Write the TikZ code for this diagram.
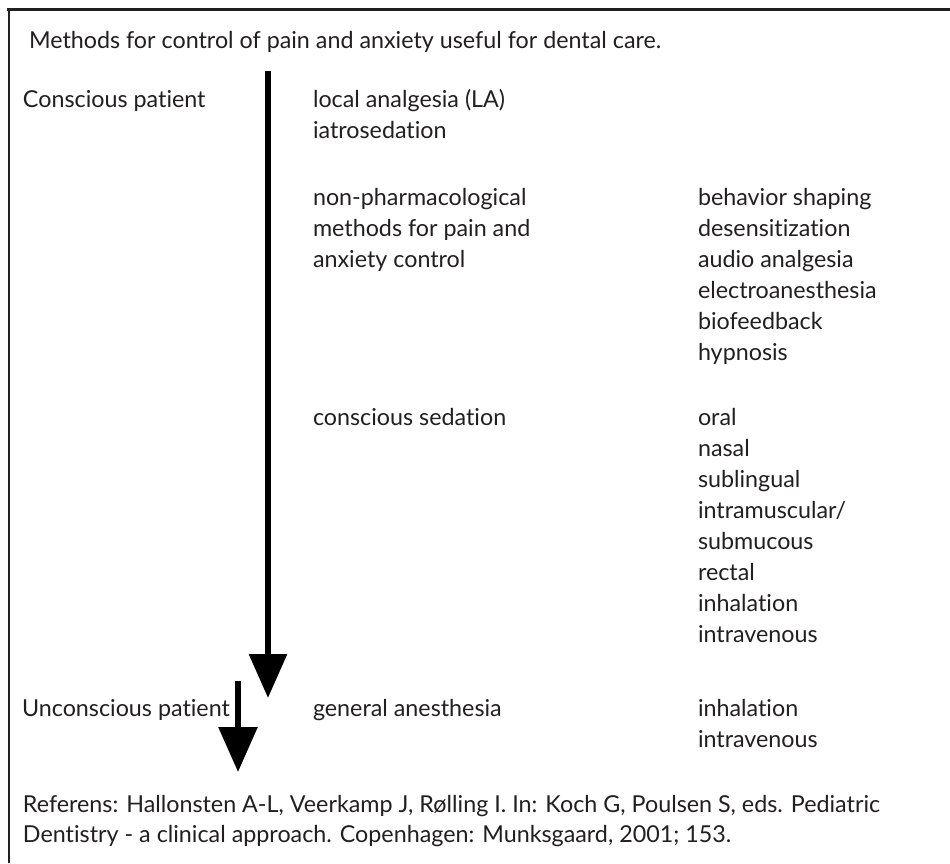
\documentclass[tikz,border=0pt]{standalone}
\usepackage{fontspec}
\setmainfont{Lato}[Ligatures=NoCommon]
\usetikzlibrary{arrows.meta}
\definecolor{ink}{HTML}{231F20}
\begin{document}
\begin{tikzpicture}[x=1pt,y=-1pt,
  txt/.style={anchor=base west,inner sep=0pt,outer sep=0pt,text=ink,font=\fontsize{23.3}{31}\selectfont},
  framefill/.style={fill=white},
  bigarrow/.style={line width=6pt,draw=black,-{Triangle[length=44pt,width=37pt]}}]
\useasboundingbox (0,0) rectangle (950,863);
\fill[framefill] (0,0) rectangle (950,863);
% frame
\coordinate (ftl) at (7,9.5);
\coordinate (ftr) at (950,9.5);
\coordinate (fl1) at (8.5,8);
\coordinate (fl2) at (8.5,863);
\draw[line width=3pt,ink] (ftl) -- (ftr);
\draw[line width=2pt,ink] (fl1) -- (fl2);
% title
\node[txt] (title) at (29,48) {Methods for control of pain and anxiety useful for dental care.};
% column 1
\node[txt] (consc) at (23,107) {Conscious patient};
\node[txt] (unconsc) at (22,716) {Unconscious patient};
% column 2
\node[txt] (la) at (313,107) {local analgesia (LA)};
\node[txt] (iatro) at (313,138) {iatrosedation};
\node[txt] (np1) at (313,205) {non-pharmacological};
\node[txt] (np2) at (313,236) {methods for pain and};
\node[txt] (np3) at (313,267) {anxiety control};
\node[txt] (cs) at (313,425) {conscious sedation};
\node[txt] (ga) at (313,716) {general anesthesia};
% column 3
\foreach \t [count=\i from 0] in {behavior shaping,desensitization,audio analgesia,electroanesthesia,biofeedback,hypnosis}
  \node[txt] (nph\i) at (698,{205+31*\i}) {\t};
\foreach \t [count=\i from 0] in {oral,nasal,sublingual,intramuscular/,submucous,rectal,inhalation,intravenous}
  \node[txt] (sed\i) at (698,{425+31*\i}) {\t};
\node[txt] (gainh) at (698,716) {inhalation};
\node[txt] (gaiv) at (698,747) {intravenous};
% reference
\node[txt] (ref1) at (23,812) {Referens: Hallonsten A-L, Veerkamp J, Rølling I. In: Koch G, Poulsen S, eds. Pediatric};
\node[txt] (ref2) at (23,842) {Dentistry - a clinical approach. Copenhagen: Munksgaard, 2001; 153.};
% arrows
\coordinate (a1s) at (268,71);
\coordinate (a1e) at (268,698);
\coordinate (a2s) at (238,681);
\coordinate (a2e) at (238,772);
\draw[bigarrow] (a1s) -- (a1e);
\draw[bigarrow,-{Triangle[length=45pt,width=38pt]}] (a2s) -- (a2e);
\end{tikzpicture}
\end{document}
